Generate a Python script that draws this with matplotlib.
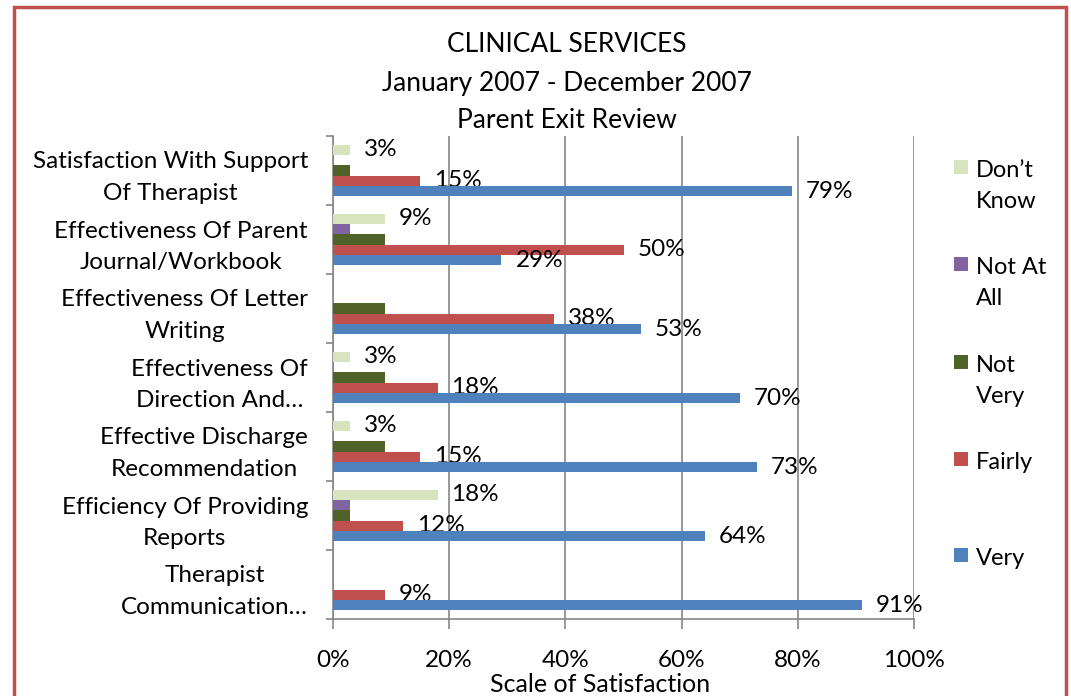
import numpy as np
import matplotlib
matplotlib.use('Agg')
import matplotlib.pyplot as plt
from matplotlib.patches import Rectangle

plt.rcParams['font.family'] = ['Lato', 'DejaVu Sans']

categories = ['Satisfaction With Support\nOf Therapist',
              'Effectiveness Of Parent\nJournal/Workbook',
              'Effectiveness Of Letter\nWriting',
              'Effectiveness Of\nDirection And\u2026',
              'Effective Discharge\nRecommendation',
              'Efficiency Of Providing\nReports',
              'Therapist\nCommunication\u2026']
series = ['Don\u2019t Know', 'Not At All', 'Not Very', 'Fairly', 'Very']
legend_labels = ['Don\u2019t\nKnow', 'Not At\nAll', 'Not\nVery', 'Fairly', 'Very']
dont_know = [0.03, 0.09, 0.00, 0.03, 0.03, 0.18, 0.00]
not_at_all = [0.00, 0.03, 0.00, 0.00, 0.00, 0.03, 0.00]
not_very = [0.03, 0.09, 0.09, 0.09, 0.09, 0.03, 0.00]
fairly = [0.15, 0.50, 0.38, 0.18, 0.15, 0.12, 0.09]
very = [0.79, 0.29, 0.53, 0.70, 0.73, 0.64, 0.91]
values = [dont_know, not_at_all, not_very, fairly, very]
colors = ['#D7E4BD', '#8064A2', '#4F6228', '#C0504D', '#4F81BD']
show_labels = [True, False, False, True, True]
xticks = [0, 0.2, 0.4, 0.6, 0.8, 1.0]
xticklabels = ['0%', '20%', '40%', '60%', '80%', '100%']

fig = plt.figure(figsize=(10.71, 6.96), dpi=100)
ax = fig.add_axes([333 / 1071, 1 - 619 / 696, 581 / 1071, 483 / 696])

y = np.arange(len(categories))
h = 0.15
offsets = [-0.3, -0.15, 0.0, 0.15, 0.3]
for vals, col, off, name, lab in zip(values, colors, offsets, series, show_labels):
    bars = ax.barh(y + off, vals, height=h, color=col, label=name, zorder=3)
    if lab:
        txt = [f'{v * 100:.0f}%' if v > 0 else '' for v in vals]
        ax.bar_label(bars, labels=txt, padding=10, fontsize=17.5, color='black')

ax.set_ylim(len(categories) - 0.5, -0.5)
ax.set_xlim(0, 1)
ax.set_yticks(y)
ax.set_yticklabels(categories, fontsize=17.5, ha='right', multialignment='center',
                   linespacing=1.6)
ax.set_yticks(np.arange(len(categories) + 1) - 0.5, minor=True)
ax.tick_params(axis='y', which='major', length=0, pad=18)
ax.tick_params(axis='y', which='minor', length=5, color='#868686', width=1.2)
ax.set_xticks(xticks)
ax.set_xticklabels(xticklabels, fontsize=17.5)
ax.tick_params(axis='x', length=7, color='#868686', width=1.2, pad=15)
ax.grid(axis='x', color='#868686', linewidth=1.2, zorder=0)
for s in ['top', 'right']:
    ax.spines[s].set_visible(False)
for s in ['left', 'bottom']:
    ax.spines[s].set_color('#868686')
    ax.spines[s].set_linewidth(1.2)

fig.text(600 / 1071, 1 - 684 / 696, 'Scale of Satisfaction', ha='center', va='center', fontsize=18)
fig.text(567 / 1071, 1 - 83 / 696,
         'CLINICAL SERVICES\nJanuary 2007 - December 2007\nParent Exit Review',
         ha='center', va='center', fontsize=19, linespacing=1.65)

# legend drawn by hand to keep Excel's spacing
leg_y = [167, 264, 362, 459, 555]
for lab, col, yy in zip(legend_labels, colors, leg_y):
    fig.patches.append(Rectangle((954 / 1071, 1 - (yy + 7) / 696), 14 / 1071, 14 / 696,
                                 transform=fig.transFigure, facecolor=col, edgecolor='none'))
    fig.text(976 / 1071, 1 - (yy - 7) / 696, lab, ha='left', va='top', fontsize=17,
             linespacing=1.6)

fig.patches.append(Rectangle((14 / 1071, -0.05), (1066 - 14) / 1071, 1.05 - 7 / 696,
                             transform=fig.transFigure, facecolor='none',
                             edgecolor='#C0504D', linewidth=2.5))

fig.savefig('out.png', dpi=100)
